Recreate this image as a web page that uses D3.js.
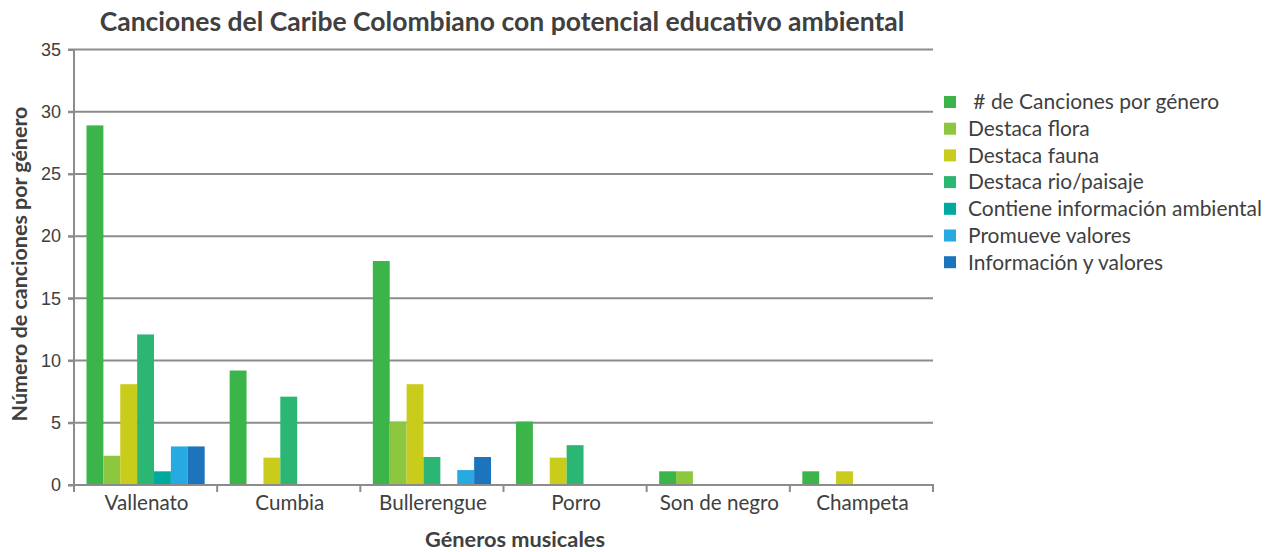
<!DOCTYPE html>
<html>
<head>
<meta charset="utf-8">
<script src="https://cdn.jsdelivr.net/npm/d3@7"></script>
<style>
  body { margin: 0; background: #fff; }
  svg { display: block; }
  text { fill: #404040; }
</style>
</head>
<body>
<script>
// datos
var categories = ["Vallenato", "Cumbia", "Bullerengue", "Porro", "Son de negro", "Champeta"];
var seriesNames = ["\u00a0# de Canciones por género", "Destaca flora", "Destaca fauna", "Destaca rio/paisaje",
                   "Contiene información ambiental", "Promueve valores", "Información y valores"];
var canciones = [28.9, 9.2, 18, 5.1, 1.1, 1.1];
var flora     = [2.35, 0, 5.1, 0, 1.1, 0];
var fauna     = [8.1, 2.2, 8.1, 2.2, 0, 1.1];
var rio       = [12.1, 7.1, 2.25, 3.2, 0, 0];
var contiene  = [1.1, 0, 0, 0, 0, 0];
var promueve  = [3.1, 0, 1.2, 0, 0, 0];
var infoVal   = [3.1, 0, 2.25, 0, 0, 0];
var yTicks = [0, 5, 10, 15, 20, 25, 30, 35];
var colors = ["#3bb54a", "#8dc63f", "#c9cc1a", "#2bb673", "#00a99d", "#27aae1", "#1c75bc"];

var series = [canciones, flora, fauna, rio, contiene, promueve, infoVal];

var width = 1274, height = 552,
    plotLeft = 74, plotRight = 933, plotTop = 49.5, plotBottom = 485;

var svg = d3.select("body").append("svg")
    .attr("width", width)
    .attr("height", height);

var x0 = d3.scaleBand().domain(categories).range([plotLeft, plotRight]).paddingInner(0).paddingOuter(0);
var x1 = d3.scaleBand().domain(d3.range(series.length)).range([12.5, x0.bandwidth() - 12.5]);
var y = d3.scaleLinear().domain([0, 35]).range([plotBottom, plotTop]);

// ajustar el tamaño de letra a un ancho dado
function fit(t, w) {
  var fs = parseFloat(t.attr("font-size"));
  var len = t.node().getComputedTextLength();
  t.attr("font-size", fs * w / len);
}

// lineas de cuadricula
svg.append("g").selectAll("line").data(yTicks.slice(1)).join("line")
    .attr("x1", plotLeft - 6).attr("x2", plotRight)
    .attr("y1", d => y(d)).attr("y2", d => y(d))
    .attr("stroke", "#8c8c8c").attr("stroke-width", 2);

// barras
var groups = svg.append("g").selectAll("g").data(categories).join("g")
    .attr("transform", d => "translate(" + x0(d) + ",0)");
groups.selectAll("rect")
    .data((d, i) => series.map((s, k) => ({k: k, v: s[i]})).filter(e => e.v > 0))
    .join("rect")
    .attr("x", d => x1(d.k))
    .attr("width", x1.bandwidth())
    .attr("y", d => y(d.v))
    .attr("height", d => y(0) - y(d.v))
    .attr("fill", d => colors[d.k]);

// eje y
var yAxis = svg.append("g").attr("transform", "translate(" + plotLeft + ",0)")
    .call(d3.axisLeft(y).tickValues(yTicks).tickSize(6).tickPadding(7));
yAxis.select(".domain").attr("stroke", "#8c8c8c").attr("stroke-width", 2)
    .attr("d", "M0," + plotTop + "V" + plotBottom);
yAxis.selectAll(".tick line").attr("stroke", "#8c8c8c").attr("stroke-width", 2);
yAxis.selectAll(".tick text").attr("font-family", "Liberation Sans, Arial, sans-serif")
    .attr("font-size", 18).style("fill", "#404040");

// eje x
var xAxis = svg.append("g").attr("transform", "translate(0," + plotBottom + ")");
xAxis.append("line").attr("x1", plotLeft - 6).attr("x2", plotRight + 1)
    .attr("stroke", "#8c8c8c").attr("stroke-width", 2);
xAxis.selectAll("line.tk").data(d3.range(categories.length + 1)).join("line")
    .attr("class", "tk")
    .attr("x1", i => plotLeft + i * x0.bandwidth()).attr("x2", i => plotLeft + i * x0.bandwidth())
    .attr("y1", 0).attr("y2", 7)
    .attr("stroke", "#8c8c8c").attr("stroke-width", 2);
var catText = xAxis.selectAll("text").data(categories).join("text")
    .attr("x", d => x0(d) + x0.bandwidth() / 2 + 1)
    .attr("y", 25)
    .attr("text-anchor", "middle")
    .attr("font-family", "Lato, sans-serif")
    .attr("font-size", 19)
    .text(d => d);
fit(d3.select(catText.nodes()[0]), 84);
catText.attr("font-size", catText.nodes()[0].getAttribute("font-size"));

// titulos
var title = svg.append("text")
    .attr("x", 502).attr("y", 31)
    .attr("text-anchor", "middle")
    .attr("font-family", "Lato, sans-serif").attr("font-weight", "bold")
    .attr("font-size", 24)
    .text("Canciones del Caribe Colombiano con potencial educativo ambiental");
fit(title, 805);

var xTitle = svg.append("text")
    .attr("x", 515).attr("y", 547)
    .attr("text-anchor", "middle")
    .attr("font-family", "Lato, sans-serif").attr("font-weight", "bold")
    .attr("font-size", 18)
    .text("Géneros musicales");
fit(xTitle, 180);

var yTitle = svg.append("text")
    .attr("transform", "translate(27,264) rotate(-90)")
    .attr("text-anchor", "middle")
    .attr("font-family", "Lato, sans-serif").attr("font-weight", "bold")
    .attr("font-size", 18)
    .text("Número de canciones por género");
fit(yTitle, 315);

// leyenda
var legend = svg.append("g").selectAll("g").data(seriesNames).join("g")
    .attr("transform", (d, i) => "translate(944," + (102 + i * 26.7) + ")");
legend.append("rect")
    .attr("x", 0).attr("y", -6).attr("width", 12).attr("height", 12)
    .attr("fill", (d, i) => colors[i]);
var legText = legend.append("text")
    .attr("x", 24).attr("y", 0).attr("dy", "0.35em")
    .attr("font-family", "Lato, sans-serif")
    .attr("font-size", 19)
    .style("white-space", "pre")
    .text(d => d);
fit(d3.select(legText.nodes()[4]), 294);
legText.attr("font-size", legText.nodes()[4].getAttribute("font-size"));
</script>
</body>
</html>
